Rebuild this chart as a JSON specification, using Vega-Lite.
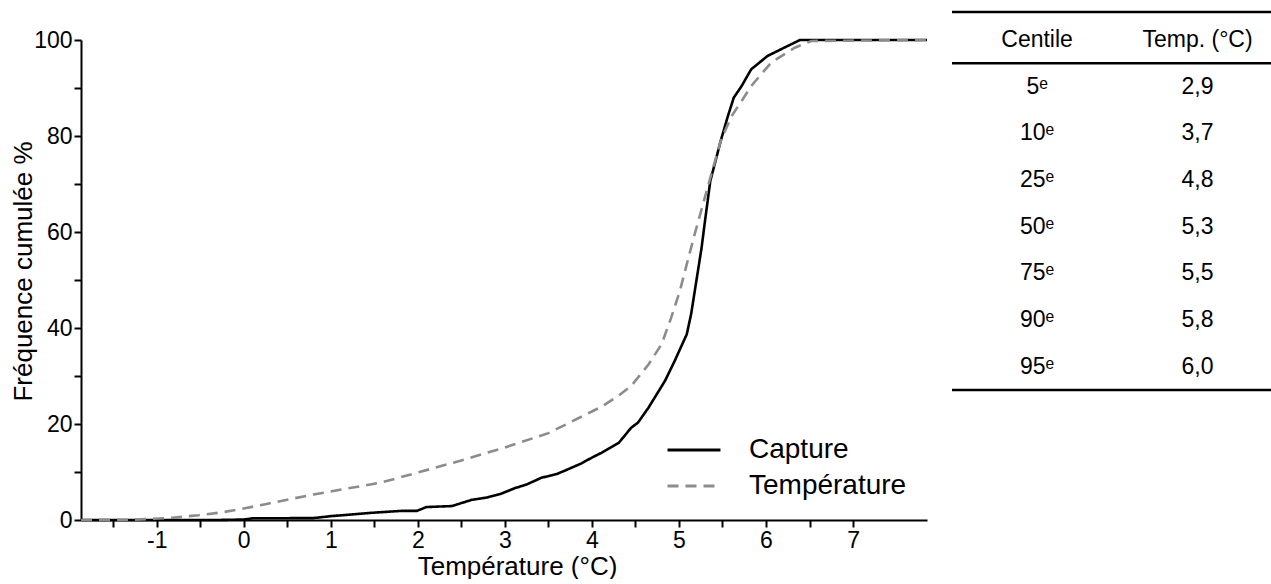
{
  "$schema": "https://vega.github.io/schema/vega-lite/v6.json",
  "background": "white",
  "padding": {"left": 10, "top": 10, "right": 0, "bottom": 0},
  "spacing": 25,
  "bounds": "flush",
  "resolve": {"legend": {"color": "independent", "strokeDash": "independent"}},
  "config": {
    "view": {"stroke": null},
    "font": "Liberation Sans",
    "axis": {
      "domainColor": "black", "domainWidth": 2, "tickColor": "black", "tickWidth": 2, "tickSize": 7,
      "labelFont": "Liberation Sans", "labelFontSize": 23, "labelColor": "black", "labelPadding": 2,
      "titleFont": "Liberation Sans", "titleFontSize": 26, "titleColor": "black", "titleFontWeight": "normal",
      "grid": false
    },
    "legend": {
      "labelFont": "Liberation Sans", "labelFontSize": 28, "labelColor": "black"
    }
  },
  "hconcat": [
    {
      "width": 846,
      "height": 480,
      "data": {
        "values": [
          {"series": "Capture", "temp": -1.87, "freq": 0},
          {"series": "Capture", "temp": -1.0, "freq": 0},
          {"series": "Capture", "temp": -0.3, "freq": 0},
          {"series": "Capture", "temp": 0.0, "freq": 0.1},
          {"series": "Capture", "temp": 0.1, "freq": 0.35},
          {"series": "Capture", "temp": 0.8, "freq": 0.4},
          {"series": "Capture", "temp": 1.0, "freq": 0.8},
          {"series": "Capture", "temp": 1.47, "freq": 1.5},
          {"series": "Capture", "temp": 1.81, "freq": 1.9},
          {"series": "Capture", "temp": 1.99, "freq": 1.9},
          {"series": "Capture", "temp": 2.1, "freq": 2.7},
          {"series": "Capture", "temp": 2.39, "freq": 2.9},
          {"series": "Capture", "temp": 2.62, "freq": 4.2},
          {"series": "Capture", "temp": 2.8, "freq": 4.7},
          {"series": "Capture", "temp": 2.96, "freq": 5.5},
          {"series": "Capture", "temp": 3.11, "freq": 6.6},
          {"series": "Capture", "temp": 3.25, "freq": 7.4},
          {"series": "Capture", "temp": 3.42, "freq": 8.8},
          {"series": "Capture", "temp": 3.6, "freq": 9.6},
          {"series": "Capture", "temp": 3.73, "freq": 10.6},
          {"series": "Capture", "temp": 3.88, "freq": 11.8},
          {"series": "Capture", "temp": 4.0, "freq": 13.0},
          {"series": "Capture", "temp": 4.11, "freq": 14.0},
          {"series": "Capture", "temp": 4.31, "freq": 16.1},
          {"series": "Capture", "temp": 4.45, "freq": 19.2},
          {"series": "Capture", "temp": 4.53, "freq": 20.3},
          {"series": "Capture", "temp": 4.65, "freq": 23.4},
          {"series": "Capture", "temp": 4.84, "freq": 29.0},
          {"series": "Capture", "temp": 4.95, "freq": 33.1},
          {"series": "Capture", "temp": 5.09, "freq": 38.7},
          {"series": "Capture", "temp": 5.14, "freq": 42.9},
          {"series": "Capture", "temp": 5.2, "freq": 49.8},
          {"series": "Capture", "temp": 5.26, "freq": 56.7},
          {"series": "Capture", "temp": 5.29, "freq": 61},
          {"series": "Capture", "temp": 5.36, "freq": 70.6},
          {"series": "Capture", "temp": 5.48, "freq": 79},
          {"series": "Capture", "temp": 5.56, "freq": 84},
          {"series": "Capture", "temp": 5.63, "freq": 88},
          {"series": "Capture", "temp": 5.72, "freq": 90.4},
          {"series": "Capture", "temp": 5.83, "freq": 93.9},
          {"series": "Capture", "temp": 6.02, "freq": 96.7},
          {"series": "Capture", "temp": 6.21, "freq": 98.4},
          {"series": "Capture", "temp": 6.39, "freq": 100},
          {"series": "Capture", "temp": 7.85, "freq": 100},
          {"series": "Température", "temp": -1.87, "freq": 0},
          {"series": "Température", "temp": -1.3, "freq": 0.05},
          {"series": "Température", "temp": -1.09, "freq": 0.2},
          {"series": "Température", "temp": -0.8, "freq": 0.5},
          {"series": "Température", "temp": -0.52, "freq": 1.0},
          {"series": "Température", "temp": -0.25, "freq": 1.6},
          {"series": "Température", "temp": 0.0, "freq": 2.4},
          {"series": "Température", "temp": 0.25, "freq": 3.3},
          {"series": "Température", "temp": 0.52, "freq": 4.3},
          {"series": "Température", "temp": 0.8, "freq": 5.3},
          {"series": "Température", "temp": 1.09, "freq": 6.25},
          {"series": "Température", "temp": 1.58, "freq": 7.8},
          {"series": "Température", "temp": 2.0, "freq": 9.9},
          {"series": "Température", "temp": 2.5, "freq": 12.4},
          {"series": "Température", "temp": 3.0, "freq": 15.1},
          {"series": "Température", "temp": 3.5, "freq": 18.1},
          {"series": "Température", "temp": 4.0, "freq": 22.6},
          {"series": "Température", "temp": 4.11, "freq": 23.6},
          {"series": "Température", "temp": 4.3, "freq": 25.8},
          {"series": "Température", "temp": 4.45, "freq": 27.9},
          {"series": "Température", "temp": 4.65, "freq": 32.4},
          {"series": "Température", "temp": 4.8, "freq": 36.6},
          {"series": "Température", "temp": 4.91, "freq": 42.1},
          {"series": "Température", "temp": 5.01, "freq": 47.7},
          {"series": "Température", "temp": 5.09, "freq": 53.3},
          {"series": "Température", "temp": 5.18, "freq": 59.5},
          {"series": "Température", "temp": 5.35, "freq": 70.6},
          {"series": "Température", "temp": 5.48, "freq": 79},
          {"series": "Température", "temp": 5.6, "freq": 84},
          {"series": "Température", "temp": 5.72, "freq": 87.3},
          {"series": "Température", "temp": 5.83, "freq": 90.4},
          {"series": "Température", "temp": 6.06, "freq": 95.3},
          {"series": "Température", "temp": 6.33, "freq": 98.4},
          {"series": "Température", "temp": 6.52, "freq": 99.8},
          {"series": "Température", "temp": 7.85, "freq": 100}
        ]
      },
      "mark": {"type": "line", "strokeWidth": 2.6, "interpolate": "linear"},
      "encoding": {
        "x": {
          "field": "temp", "type": "quantitative",
          "scale": {"domain": [-1.87, 7.85], "nice": false, "zero": false},
          "axis": {
            "title": "Température (°C)",
            "values": [-1.5, -1, -0.5, 0, 0.5, 1, 1.5, 2, 2.5, 3, 3.5, 4, 4.5, 5, 5.5, 6, 6.5, 7],
            "labelExpr": "datum.value % 1 === 0 ? toString(datum.value) : ''",
            "titlePadding": 1,
            "titleX": 436
          }
        },
        "y": {
          "field": "freq", "type": "quantitative",
          "scale": {"domain": [0, 100], "nice": false},
          "axis": {
            "title": "Fréquence cumulée %",
            "values": [0, 10, 20, 30, 40, 50, 60, 70, 80, 90, 100],
            "labelExpr": "datum.value % 20 === 0 ? datum.label : ''",
            "titlePadding": -3,
            "titleY": 231
          }
        },
        "color": {
          "field": "series", "type": "nominal",
          "scale": {"domain": ["Capture", "Température"], "range": ["#000000", "#8c8c8c"]},
          "legend": {
            "title": null, "orient": "bottom-right", "offset": 20, "padding": 0,
            "symbolType": "M-1.47,0H1.47", "symbolSize": 1300, "symbolStrokeWidth": 3,
            "labelOffset": 35, "rowPadding": 2
          }
        },
        "strokeDash": {
          "field": "series", "type": "nominal",
          "scale": {"domain": ["Capture", "Température"], "range": [[1, 0], [11, 7]]},
          "legend": {
            "title": null, "orient": "bottom-right", "offset": 20, "padding": 0,
            "symbolType": "M-1.47,0H1.47", "symbolSize": 1300, "symbolStrokeWidth": 3,
            "labelOffset": 35, "rowPadding": 2
          }
        }
      }
    },
    {
      "width": 321,
      "height": 373.3,
      "layer": [
        {
          "data": {
            "values": [
              {"row": 0, "Centile": "Centile", "Temp": "Temp. (°C)"},
              {"row": 1, "Centile": "5ᵉ", "Temp": "2,9"},
              {"row": 2, "Centile": "10ᵉ", "Temp": "3,7"},
              {"row": 3, "Centile": "25ᵉ", "Temp": "4,8"},
              {"row": 4, "Centile": "50ᵉ", "Temp": "5,3"},
              {"row": 5, "Centile": "75ᵉ", "Temp": "5,5"},
              {"row": 6, "Centile": "90ᵉ", "Temp": "5,8"},
              {"row": 7, "Centile": "95ᵉ", "Temp": "6,0"}
            ]
          },
          "transform": [{"fold": ["Centile", "Temp"], "as": ["col", "txt"]}],
          "mark": {"type": "text", "fontSize": 23, "font": "Liberation Sans", "color": "black", "baseline": "middle", "align": "center"},
          "encoding": {
            "x": {"field": "col", "type": "nominal", "scale": {"type": "point", "domain": ["Centile", "Temp"], "padding": 0.5, "align": 0.53}, "axis": null},
            "y": {"field": "row", "type": "quantitative", "scale": {"domain": [0, 8], "reverse": true, "nice": false, "zero": false}, "axis": null},
            "text": {"field": "txt"}
          }
        },
        {
          "data": {"values": [{"line": -0.6}, {"line": 0.5}, {"line": 7.5}]},
          "mark": {"type": "rule", "color": "black", "strokeWidth": 2.5},
          "encoding": {
            "y": {"field": "line", "type": "quantitative"}
          }
        }
      ]
    }
  ]
}
